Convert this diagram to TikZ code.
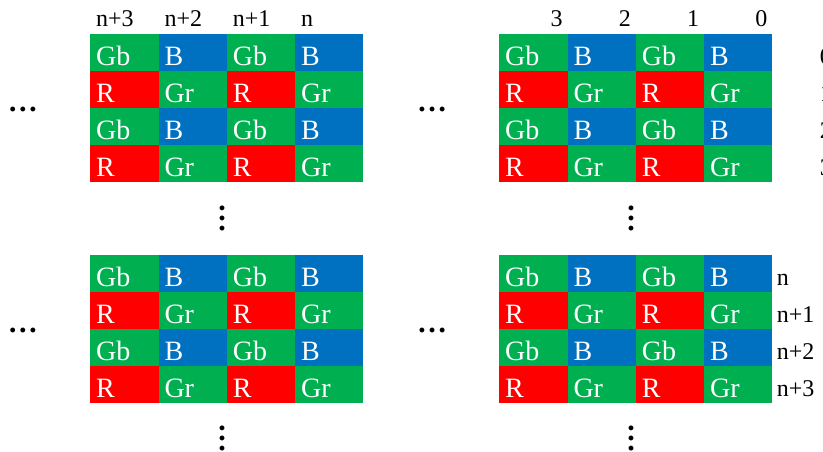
\documentclass[tikz,border=0pt]{standalone}
\usepackage{fontspec}
\setmainfont{Liberation Serif}
\usetikzlibrary{positioning}
\definecolor{bgreen}{RGB}{0,176,80}
\definecolor{bblue}{RGB}{0,112,192}
\definecolor{bred}{RGB}{255,0,0}

\begin{document}
\begin{tikzpicture}[x=1pt, y=-1pt,
    pix/.style={anchor=north west, inner sep=0pt, inner xsep=6pt,
      minimum width=68.3pt, minimum height=37pt, text width=56.3pt,
      align=left, text height=25pt, text depth=0pt, text=white,
      font=\fontsize{28}{28}\selectfont},
    lbl/.style={inner sep=0pt, font=\fontsize{24}{24}\selectfont},
    dots/.style={inner sep=0pt, anchor=base, font=\fontsize{30}{30}\selectfont\bfseries}]
    \clip (0,0) rectangle (823,452);

    % Mosaicos Bayer
    \foreach \g/\ox/\oy in {tl/90/34, tr/499/34, bl/90/255, br/499/255} {
      \foreach \r/\ka/\ca/\kb/\cb in {0/Gb/bgreen/B/bblue, 1/R/bred/Gr/bgreen,
                                      2/Gb/bgreen/B/bblue, 3/R/bred/Gr/bgreen} {
        \foreach \c/\k/\f in {0/\ka/\ca, 1/\kb/\cb, 2/\ka/\ca, 3/\kb/\cb} {
          \node[pix, fill=\f] (\g-\r-\c) at ({\ox+\c*68.3}, {\oy+\r*37}) {\k};
        }
      }
    }

    % Etiquetas de columnas
    \foreach \c/\t in {0/n+3, 1/n+2, 2/n+1, 3/n}
      \node[lbl, anchor=base west] (tl-col\c) at ([xshift=6pt, yshift=7pt]tl-0-\c.north west) {\t};
    \foreach \c/\t in {0/3, 1/2, 2/1, 3/0}
      \node[lbl, anchor=base east] (tr-col\c) at ([xshift=-5pt, yshift=7pt]tr-0-\c.north east) {\t};

    % Etiquetas de filas
    \foreach \r/\t in {0/n, 1/n+1, 2/n+2, 3/n+3}
      \node[lbl, anchor=base west] (br-row\r) at ([xshift=4pt, yshift=7pt]br-\r-3.south east) {\t};
    \foreach \r in {0,...,3}
      \node[lbl, anchor=base west] (tr-row\r) at ([xshift=47pt, yshift=7pt]tr-\r-3.south east) {\r};

    % Puntos suspensivos
    \node[dots] (tl-h) at (23,111) {…};
    \node[dots] (tr-h) at (432,111) {…};
    \node[dots] (bl-h) at (23,332) {…};
    \node[dots] (br-h) at (432,332) {…};
    \node[dots, rotate=90] (tl-v) at (224,218) {…};
    \node[dots, rotate=90] (tr-v) at (633,218) {…};
    \node[dots, rotate=90] (bl-v) at (224,438) {…};
    \node[dots, rotate=90] (br-v) at (633,438) {…};
\end{tikzpicture}
\end{document}
